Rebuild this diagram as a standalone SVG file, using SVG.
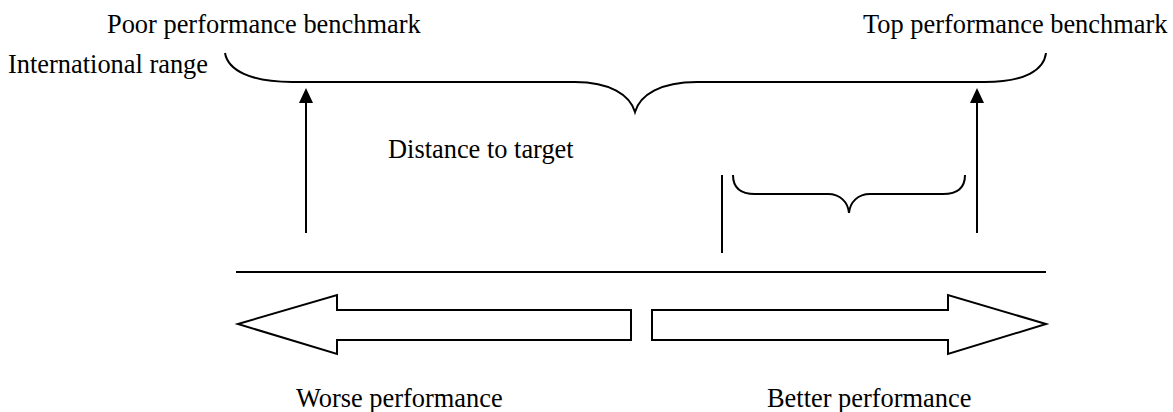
<svg xmlns="http://www.w3.org/2000/svg" width="1173" height="412" viewBox="0 0 1173 412">
  <style>
    .lbl { font-family: "Liberation Serif", "Times New Roman", serif; font-size: 26.4px; fill: #000; }
    .ln { fill: none; stroke: #000; stroke-width: 2; }
    .blk { fill: #fff; stroke: #000; stroke-width: 2; stroke-linejoin: miter; }
    .head { fill: #000; }
  </style>
  <rect width="1173" height="412" fill="#fff"/>

  <g id="labels">
    <text class="lbl" x="107" y="33">Poor performance benchmark</text>
    <text class="lbl" x="863" y="33">Top performance benchmark</text>
    <text class="lbl" x="8" y="73">International range</text>
    <text class="lbl" x="388" y="158">Distance to target</text>
    <text class="lbl" x="296" y="407">Worse performance</text>
    <text class="lbl" x="767" y="407">Better performance</text>
  </g>

  <!-- brace spanning the international range -->
  <g id="international-range-brace">
    <path class="ln" d="M225,53 C228,70 250,82 292,82 L575,82 C610,82 630,95 635,112 C640,95 660,82 697,82 L985,82 C1025,82 1044,70 1046,53"/>
  </g>

  <!-- brace marking the distance to target -->
  <g id="distance-brace">
    <path class="ln" d="M733,175 C733,188 740,194 755,194 L828,194 C840,194 848,202 849,213 C850,202 858,194 870,194 L943,194 C958,194 965,188 965,175"/>
  </g>

  <g id="connectors">
    <line class="ln" x1="306" y1="233" x2="306" y2="100"/>
    <polygon class="head" points="306,88 299,103 313,103"/>
    <line class="ln" x1="977" y1="233" x2="977" y2="100"/>
    <polygon class="head" points="977,88 970,103 984,103"/>
    <line class="ln" x1="722" y1="175" x2="722" y2="253"/>
    <line class="ln" x1="236" y1="272" x2="1046" y2="272"/>
  </g>

  <g id="worse-arrow">
    <polygon class="blk" points="238,324 337,295 337,310 631,310 631,340 337,340 337,354"/>
  </g>

  <g id="better-arrow">
    <polygon class="blk" points="1046,324 948,295 948,310 652,310 652,340 948,340 948,354"/>
  </g>
</svg>
